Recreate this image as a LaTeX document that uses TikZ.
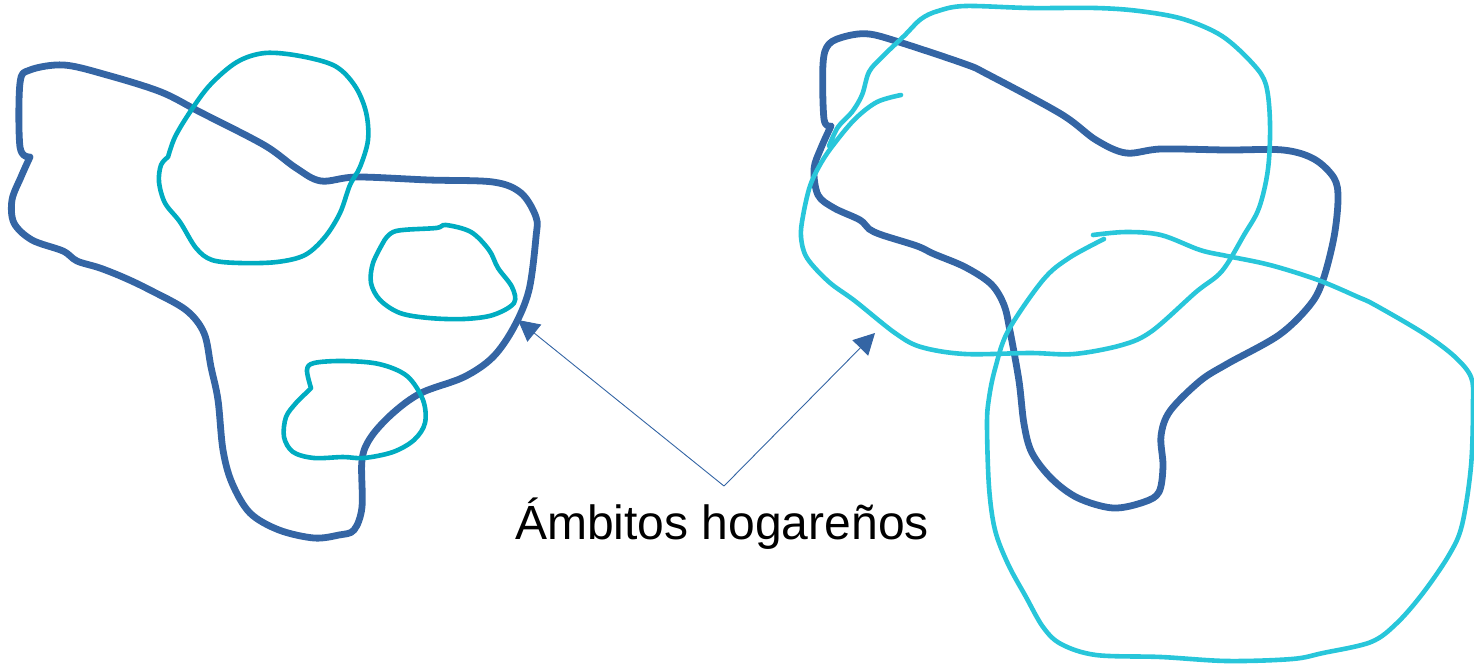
\documentclass[tikz,border=0pt]{standalone}
\usepackage{fontspec}
\setmainfont{Liberation Sans}
\usetikzlibrary{arrows.meta}
\definecolor{hrblue}{RGB}{52,101,164}
\definecolor{hrteal}{RGB}{0,172,193}
\definecolor{hrcyan}{RGB}{40,198,218}
\begin{document}
\begin{tikzpicture}[x=1pt,y=-1pt,
  homerange/.style={draw=hrblue,line width=6.8pt,line cap=round,line join=round},
  leftcore/.style={draw=hrteal,line width=4.6pt,line cap=round,line join=round},
  rightcore/.style={draw=hrcyan,line width=4.6pt,line cap=round,line join=round},
  pointer/.style={draw=hrblue,line width=0.9pt,-{Triangle[length=21pt,width=22pt]}},
  caption/.style={font=\fontsize{48}{57}\selectfont,text=black,inner sep=0pt}]
\useasboundingbox (0,0) rectangle (1474,665);

% left home range
\draw[homerange] plot[smooth,tension=0.55] coordinates {(30,157) (21,177) (12,200) (14,223) (32,240) (63,251) (77,261) (100,268) (125,278) (150,290) (186,310) (204,333) (211,367) (218,400) (223,450) (232,483) (250,513) (279,530) (314,538) (339,535) (354,530) (362,507) (362,460) (371,437) (393,413) (421,393) (464,377) (493,357) (514,327) (529,290) (536,237) (536,217) (521,193) (493,182) (429,180) (357,177) (321,181) (296,168) (264,145) (200,112) (161,92) (107,75) (64,65) (30,70) (20,83) (20,147) (30,157)};

\draw[leftcore] plot[smooth,tension=0.55] coordinates {(168,157) (175,137) (190,112) (210,85) (237,62) (265,53) (300,56) (335,66) (355,86) (366,112) (368,140) (360,167) (350,185) (340,213) (325,237) (305,255) (277,262) (240,263) (212,260) (196,248) (180,222) (165,203) (159,182) (161,165) (168,157)};

\draw[leftcore] plot[smooth,tension=0.55] coordinates {(384,241) (396,231) (436,228) (446,225) (471,232) (489,250) (498,268) (512,287) (514,303) (493,315) (464,319) (429,318) (400,313) (380,300) (371,283) (373,263) (384,241)};

\draw[leftcore] plot[smooth,tension=0.55] coordinates {(311,388) (307,370) (314,363) (343,361) (379,364) (407,376) (423,400) (425,423) (414,440) (393,452) (364,458) (343,457) (314,458) (293,452) (284,437) (286,417) (296,403) (305,394) (311,388)};

% right home range
\draw[homerange] plot[smooth,tension=0.55] coordinates {(831,126) (821,148) (814,169) (818,195) (834,208) (860,220) (869,229) (882,235) (917,246) (934,254) (965,267) (991,284) (1004,305) (1010,331) (1019,381) (1024,424) (1032,453) (1052,479) (1078,498) (1113,508) (1144,502) (1159,492) (1163,466) (1161,436) (1170,411) (1200,381) (1227,364) (1279,335) (1310,305) (1323,280) (1334,237) (1338,199) (1334,178) (1314,159) (1283,150) (1227,150) (1161,149) (1126,153) (1096,140) (1061,114) (987,74) (965,64) (899,42) (869,34) (847,36) (829,44) (823,64) (824,119) (831,126)};

\draw[rightcore] plot[smooth,tension=0.55] coordinates {(829,146) (838,127) (852,112) (862,95) (869,72) (882,57) (904,36) (921,19) (938,11) (965,6) (1030,8) (1096,8) (1139,11) (1183,19) (1222,36) (1253,64) (1266,85) (1270,123) (1268,169) (1259,208) (1244,235) (1222,271) (1196,292) (1152,331) (1122,345) (1074,354) (1030,353) (965,354) (921,347) (895,333) (855,301) (829,282) (807,258) (801,237) (803,216) (810,186) (821,163) (834,144) (855,119) (877,102) (901,95)};

\draw[rightcore] plot[smooth,tension=0.55] coordinates {(1093,235) (1126,232) (1161,235) (1200,250) (1227,256) (1270,265) (1318,280) (1358,297) (1375,305) (1423,333) (1454,356) (1471,377) (1473,403) (1471,466) (1462,525) (1449,555) (1423,593) (1397,623) (1371,642) (1323,653) (1292,659) (1227,661) (1161,657) (1096,655) (1061,644) (1043,627) (1026,597) (1008,564) (995,530) (989,487) (987,424) (989,398) (995,369) (1008,331) (1043,280) (1069,258) (1104,239)};

% label and pointers
\node[caption,anchor=base] (label) at (722,539) {Ámbitos hogareños};
\coordinate (apex) at (724,486);
\coordinate (tipL) at (518,320);
\coordinate (tipR) at (875,333);
\draw[pointer] (apex) -- (tipL);
\draw[pointer] (apex) -- (tipR);
\end{tikzpicture}
\end{document}
